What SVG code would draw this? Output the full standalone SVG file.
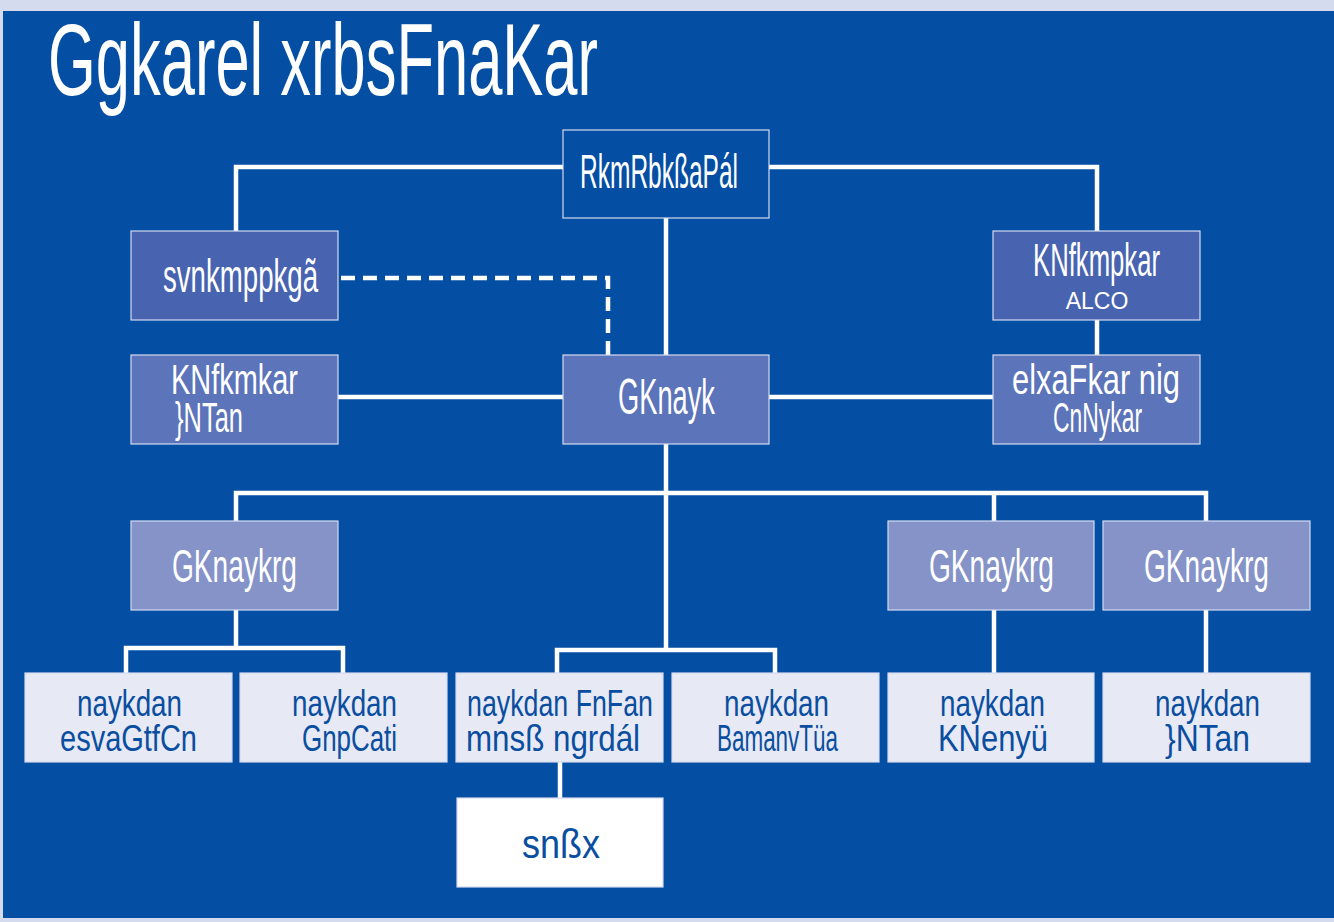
<svg xmlns="http://www.w3.org/2000/svg" width="1334" height="922" viewBox="0 0 1334 922">
<style>
.bg{fill:#d5dbef}
.main{fill:#044fa3}
.n{stroke:#d4daf0;stroke-width:1.2}
.c{fill:none;stroke:#ffffff;stroke-width:4.5}
.d{fill:none;stroke:#ffffff;stroke-width:4.5;stroke-dasharray:14 8}
.t{font-family:"Liberation Sans",Arial,sans-serif;fill:#ffffff}
.tb{font-family:"Liberation Sans",Arial,sans-serif;fill:#0a4ea0}
</style>
<rect class="bg" x="0" y="0" width="1334" height="922"/>
<rect class="main" x="3" y="11" width="1331" height="907"/>
<text class="t" x="48" y="95" font-size="102" textLength="550" lengthAdjust="spacingAndGlyphs">Ggkarel xrbsFnaKar</text>
<g id="connectors">
<polyline class="c" points="563,167 236,167 236,231"/>
<polyline class="c" points="769,167 1097,167 1097,231"/>
<line class="c" x1="666" y1="218" x2="666" y2="650"/>
<polyline class="d" points="341,278 608,278 608,355"/>
<line class="c" x1="1097" y1="320" x2="1097" y2="355"/>
<line class="c" x1="338" y1="397" x2="563" y2="397"/>
<line class="c" x1="769" y1="397" x2="993" y2="397"/>
<polyline class="c" points="236,521 236,493 1206,493 1206,521"/>
<line class="c" x1="994" y1="493" x2="994" y2="521"/>
<polyline class="c" points="557,673 557,650 775,650 775,673"/>
<polyline class="c" points="126,673 126,648 343,648 343,673"/>
<line class="c" x1="236" y1="610" x2="236" y2="648"/>
<line class="c" x1="994" y1="610" x2="994" y2="673"/>
<line class="c" x1="1206" y1="610" x2="1206" y2="673"/>
<line class="c" x1="560" y1="762" x2="560" y2="798"/>
</g>
<g id="node-top">
<rect class="n" x="563" y="130" width="206" height="88" fill="#044fa3"/>
<text class="t" x="580" y="188" font-size="48" textLength="158" lengthAdjust="spacingAndGlyphs">RkmRbkßaPál</text>
</g>
<g id="node-left1">
<rect class="n" x="131" y="231" width="207" height="89" fill="#4864b0"/>
<text class="t" x="163" y="292" font-size="46" textLength="155" lengthAdjust="spacingAndGlyphs">svnkmppkgã</text>
</g>
<g id="node-right1">
<rect class="n" x="993" y="231" width="207" height="89" fill="#4864b0"/>
<text class="t" x="1033" y="276" font-size="46" textLength="127" lengthAdjust="spacingAndGlyphs">KNfkmpkar</text>
<text class="t" x="1097" y="309" font-size="23" text-anchor="middle">ALCO</text>
</g>
<g id="node-left2">
<rect class="n" x="131" y="355" width="207" height="89" fill="#5c74b9"/>
<text class="t" x="171" y="394" font-size="42" textLength="127" lengthAdjust="spacingAndGlyphs">KNfkmkar</text>
<text class="t" x="175" y="432" font-size="42" textLength="68" lengthAdjust="spacingAndGlyphs">}NTan</text>
</g>
<g id="node-center">
<rect class="n" x="563" y="355" width="206" height="89" fill="#5c74b9"/>
<text class="t" x="618" y="414" font-size="50" textLength="97" lengthAdjust="spacingAndGlyphs">GKnayk</text>
</g>
<g id="node-right2">
<rect class="n" x="993" y="355" width="207" height="89" fill="#5c74b9"/>
<text class="t" x="1012" y="394" font-size="42" textLength="168" lengthAdjust="spacingAndGlyphs">elxaFkar nig</text>
<text class="t" x="1053" y="432" font-size="42" textLength="89" lengthAdjust="spacingAndGlyphs">CnNykar</text>
</g>
<g id="node-r3a">
<rect class="n" x="131" y="521" width="207" height="89" fill="#8593c8"/>
<text class="t" x="172" y="582" font-size="46" textLength="125" lengthAdjust="spacingAndGlyphs">GKnaykrg</text>
</g>
<g id="node-r3b">
<rect class="n" x="888" y="521" width="206" height="89" fill="#8593c8"/>
<text class="t" x="929" y="582" font-size="46" textLength="125" lengthAdjust="spacingAndGlyphs">GKnaykrg</text>
</g>
<g id="node-r3c">
<rect class="n" x="1103" y="521" width="207" height="89" fill="#8593c8"/>
<text class="t" x="1144" y="582" font-size="46" textLength="125" lengthAdjust="spacingAndGlyphs">GKnaykrg</text>
</g>
<g id="node-b1">
<rect class="n" x="25" y="673" width="207" height="89" fill="#e7e9f5"/>
<text class="tb" x="77" y="716" font-size="36" textLength="105" lengthAdjust="spacingAndGlyphs">naykdan</text>
<text class="tb" x="60" y="751" font-size="36" textLength="137" lengthAdjust="spacingAndGlyphs">esvaGtfCn</text>
</g>
<g id="node-b2">
<rect class="n" x="240" y="673" width="207" height="89" fill="#e7e9f5"/>
<text class="tb" x="292" y="716" font-size="36" textLength="105" lengthAdjust="spacingAndGlyphs">naykdan</text>
<text class="tb" x="302" y="751" font-size="36" textLength="95" lengthAdjust="spacingAndGlyphs">GnpCati</text>
</g>
<g id="node-b3">
<rect class="n" x="456" y="673" width="207" height="89" fill="#e7e9f5"/>
<text class="tb" x="467" y="716" font-size="36" textLength="186" lengthAdjust="spacingAndGlyphs">naykdan FnFan</text>
<text class="tb" x="466" y="751" font-size="36" textLength="174" lengthAdjust="spacingAndGlyphs">mnsß ngrdál</text>
</g>
<g id="node-b4">
<rect class="n" x="672" y="673" width="207" height="89" fill="#e7e9f5"/>
<text class="tb" x="724" y="716" font-size="36" textLength="105" lengthAdjust="spacingAndGlyphs">naykdan</text>
<text class="tb" x="717" y="751" font-size="36" textLength="121" lengthAdjust="spacingAndGlyphs">BamanvTüa</text>
</g>
<g id="node-b5">
<rect class="n" x="888" y="673" width="206" height="89" fill="#e7e9f5"/>
<text class="tb" x="940" y="716" font-size="36" textLength="105" lengthAdjust="spacingAndGlyphs">naykdan</text>
<text class="tb" x="938" y="751" font-size="36" textLength="110" lengthAdjust="spacingAndGlyphs">KNenyü</text>
</g>
<g id="node-b6">
<rect class="n" x="1103" y="673" width="207" height="89" fill="#e7e9f5"/>
<text class="tb" x="1155" y="716" font-size="36" textLength="105" lengthAdjust="spacingAndGlyphs">naykdan</text>
<text class="tb" x="1165" y="751" font-size="36" textLength="85" lengthAdjust="spacingAndGlyphs">}NTan</text>
</g>
<g id="node-bottom">
<rect class="n" x="457" y="798" width="206" height="89" fill="#ffffff"/>
<text class="tb" x="522" y="858" font-size="40" textLength="78" lengthAdjust="spacingAndGlyphs">snßx</text>
</g>
</svg>
